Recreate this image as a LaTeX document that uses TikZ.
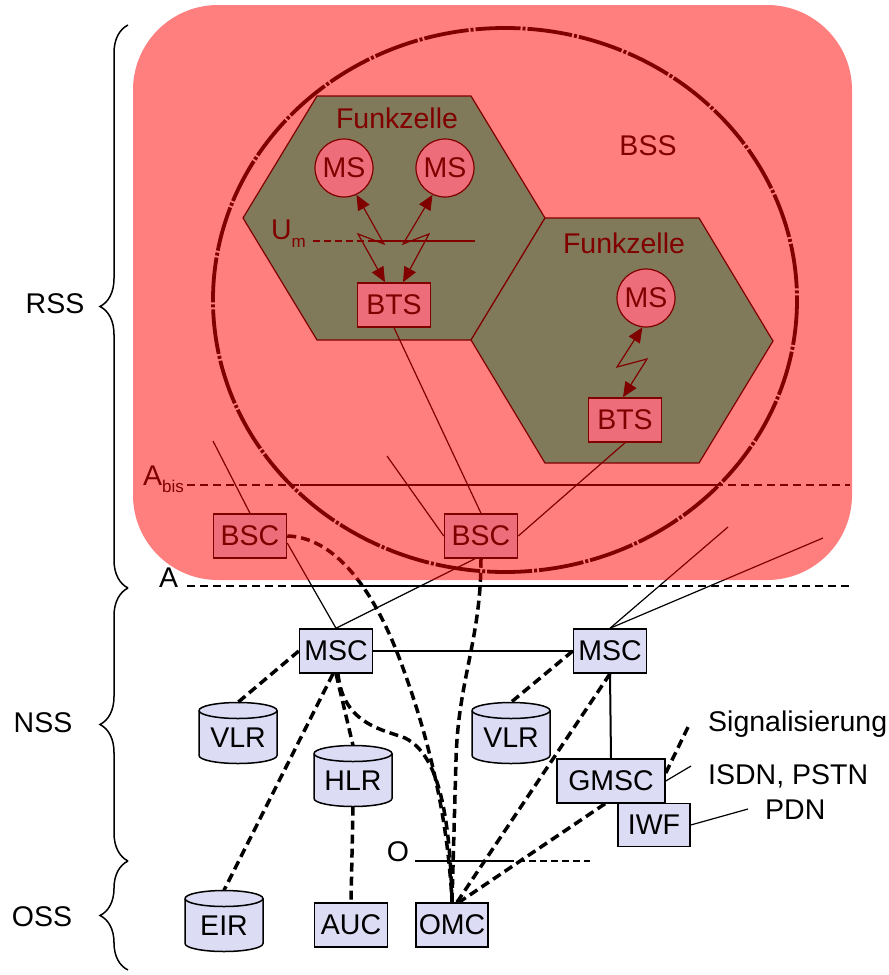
\documentclass[tikz,border=0pt]{standalone}
\usepackage{fontspec}
\setmainfont{Liberation Sans}
\usetikzlibrary{arrows.meta,decorations.pathreplacing,calc}
\definecolor{lav}{RGB}{220,220,245}
\definecolor{hexc}{RGB}{2,246,182}
\newcommand\fs{\fontsize{28.5}{32}\selectfont}
\newcommand\fsub{\fontsize{17}{19}\selectfont}
\newcommand\dbcyl[4]{%
  \filldraw[fill=lav, draw=black, line width=1.5pt] (#2-39,#3-22.5) -- (#2-39,#3+22.5)
     arc[start angle=180,end angle=0,x radius=39,y radius=8] -- (#2+39,#3-22.5)
     arc[start angle=0,end angle=-180,x radius=39,y radius=8] -- cycle;
  \draw[line width=1.5pt] (#2-39,#3-22.5) arc[start angle=180,end angle=0,x radius=39,y radius=8];
  \node[cylt] (#1) at (#2,#3) {#4};
}
\begin{document}
\begin{tikzpicture}[x=1pt,y=-1pt,
  box/.style={draw, line width=1.5pt, fill=lav, minimum width=73pt, minimum height=44pt, inner sep=0pt, font=\fs},
  msnode/.style={circle, draw, line width=1.2pt, fill=lav, minimum size=58pt, inner sep=0pt, font=\fs},
  cylt/.style={minimum width=78pt, minimum height=61pt, inner sep=0pt, font=\fs, text height=29pt, text depth=0pt},
  cellhex/.style={fill=hexc, draw=black, line width=1.2pt},
  fine/.style={line width=1.2pt},
  sig/.style={line width=3.5pt, dash pattern=on 9pt off 5pt},
  iface/.style={line width=2pt},
  ifdash/.style={line width=2pt, dash pattern=on 8pt off 5pt},
  radio/.style={line width=1.2pt, {Triangle[length=15pt,width=13pt]}-{Triangle[length=15pt,width=13pt]}},
  lbl/.style={font=\fs, inner sep=0pt},
  brc/.style={decorate, decoration={brace, amplitude=28pt}, line width=1.5pt},
  ring/.style={line width=3.8pt, dash pattern=on 45pt off 2pt on 3pt off 2pt},
]
\useasboundingbox (0,0) rectangle (889,975);
\fill[white] (0,0) rectangle (889,975);

% radio cells
\filldraw[cellhex] (317,96) -- (471,96) -- (545,218) -- (471,340) -- (317,340) -- (243,218) -- cycle;
\filldraw[cellhex] (545,218) -- (699,218) -- (773,341) -- (699,463) -- (545,463) -- (471,340) -- cycle;

% BSS ring
\draw[ring] (505,300) ellipse [x radius=292, y radius=272];

% interfaces inside the BSS
\coordinate (um0) at (313,241); \coordinate (um1) at (370,241); \coordinate (um2) at (475,241);
\draw[fine, dash pattern=on 7pt off 4pt] (um0) -- (um1);
\draw[fine] (um1) -- (um2);
\node[lbl, anchor=base east] (umlbl) at (306,239) {U\raisebox{-8pt}{\fsub m}};

\coordinate (ab0) at (187,485); \coordinate (ab1) at (300,485); \coordinate (ab2) at (715,485); \coordinate (ab3) at (850,485);
\draw[ifdash] (ab0) -- (ab1);
\draw[iface] (ab1) -- (ab2);
\draw[ifdash] (ab2) -- (ab3);
\node[lbl, anchor=base east] (ablbl) at (184,485) {A\raisebox{-7pt}{\fsub bis}};

% texts in the BSS
\node[lbl] (fz1) at (397,118) {Funkzelle};
\node[lbl] (fz2) at (624,243) {Funkzelle};
\node[lbl] (bss) at (648,146) {BSS};

% nodes
\node[msnode] (ms1) at (344,168) {MS};
\node[msnode] (ms2) at (445,168) {MS};
\node[msnode] (ms3) at (646,298) {MS};
\node[box] (bts1) at (394,305) {BTS};
\node[box] (bts2) at (625,420) {BTS};
\node[box] (bsc1) at (250,536) {BSC};
\node[box] (bsc2) at (481,536) {BSC};
\node[box] (msc1) at (336,651) {MSC};
\node[box] (msc2) at (610,651) {MSC};
\dbcyl{vlr1}{238}{733}{VLR}
\dbcyl{hlr}{353}{776}{HLR}
\dbcyl{vlr2}{511}{733}{VLR}
\dbcyl{eir}{224}{921}{EIR}
\node[box, minimum width=108pt] (gmsc) at (611,781) {GMSC};
\node[box, minimum width=72pt, minimum height=43pt] (iwf) at (654,825) {IWF};
\node[box] (auc) at (351,925) {AUC};
\node[box, minimum width=72pt] (omc) at (452,925) {OMC};

% radio links
\draw[radio] (ms1.-65) -- (384,244) -- (358,234) -- ($(bts1.north)+(-9,0)$);
\draw[radio] (ms2.-115) -- (403,244) -- (429,234) -- ($(bts1.north)+(9,0)$);
\draw[radio] (ms3.-97) -- (617,367) -- (647,359) -- ($(bts2.north)+(-2,0)$);

% thin links
\coordinate (t1) at (213,441);
\coordinate (t2) at (387,456);
\coordinate (t3) at (728,527);
\coordinate (t4) at (823,538);
\draw[fine] (t1) -- (bsc1.north);
\draw[fine] (t2) -- (bsc2.west);
\draw[fine] (bts1.south) -- (bsc2.north);
\draw[fine] (bts2.south) -- (bsc2.east);
\draw[fine] ($(bsc1.east)+(0,7)$) -- (msc1.north);
\draw[fine] ($(bsc2.south)+(-6,0)$) -- (msc1.north);
\draw[fine] (msc2.north) -- (t3);
\draw[fine] (msc2.north) -- (t4);
\draw[iface] (msc1.east) -- (msc2.west);
\draw[iface] (msc2.south) -- (gmsc.north);

% signalling links
\draw[sig] (msc1.west) -- (vlr1.north);
\draw[sig] ($(msc1.south)+(-3,0)$) -- (eir.north);
\draw[sig] (msc1.south) -- (hlr.north);
\draw[sig] (hlr.south) -- (auc.north);
\draw[sig] ($(msc1.south)+(2,0)$) .. controls (343,725) and (385,730) .. (405,738) .. controls (440,755) and (450,820) .. (omc.north);
\draw[sig] (bsc1.east) .. controls (330,537) and (370,580) .. (400,660) .. controls (430,740) and (448,820) .. (omc.north);
\draw[sig] (bsc2.south) .. controls (481,640) and (458,680) .. (456,760) -- (omc.north);
\draw[sig] (msc2.west) -- (vlr2.north);
\draw[sig] (msc2.south) -- ($(omc.north)+(5,0)$);
\draw[sig] ($(gmsc.south)+(-6,0)$) -- ($(omc.north)+(7,0)$);

% BSS / RSS overlay
\fill[red, fill opacity=0.5, rounded corners=85pt] (133,5) rectangle (852,580);

% A interface
\coordinate (a0) at (187,586); \coordinate (a1) at (293,586); \coordinate (a2) at (620,586); \coordinate (a3) at (850,586);
\draw[ifdash] (a0) -- (a1);
\draw[iface] (a1) -- (a2);
\draw[ifdash] (a2) -- (a3);
\node[lbl, anchor=base west] (albl) at (159,587) {A};

% O interface
\coordinate (o0) at (415,861); \coordinate (o1) at (507,861); \coordinate (o2) at (590,861);
\draw[line width=1.5pt] (o0) -- (o1);
\draw[line width=1.5pt, dash pattern=on 7pt off 4pt] (o1) -- (o2);
\node[lbl, anchor=base] (olbl) at (398,861) {O};

% external networks
\coordinate (sg) at (690,723);
\coordinate (isdn) at (691,766);
\coordinate (pdn) at (748,809);
\draw[sig] ($(gmsc.east)+(0,-8)$) -- (sg);
\draw[fine] (gmsc.east) -- (isdn);
\draw[fine] (iwf.east) -- (pdn);
\node[lbl, anchor=base west] (sgl) at (708,731) {Signalisierung};
\node[lbl, anchor=base west] (isdnl) at (708,784) {ISDN, PSTN};
\node[lbl, anchor=base west] (pdnl) at (765,819) {PDN};

% subsystem braces
\draw[brc] (128,588) -- (128,25);
\draw[brc] (128,861) -- (128,588);
\draw[brc] (128,970) -- (128,861);
\node[lbl, anchor=base] (rss) at (55,313) {RSS};
\node[lbl, anchor=base] (nss) at (43,732) {NSS};
\node[lbl, anchor=base] (oss) at (42,926) {OSS};
\end{tikzpicture}
\end{document}
